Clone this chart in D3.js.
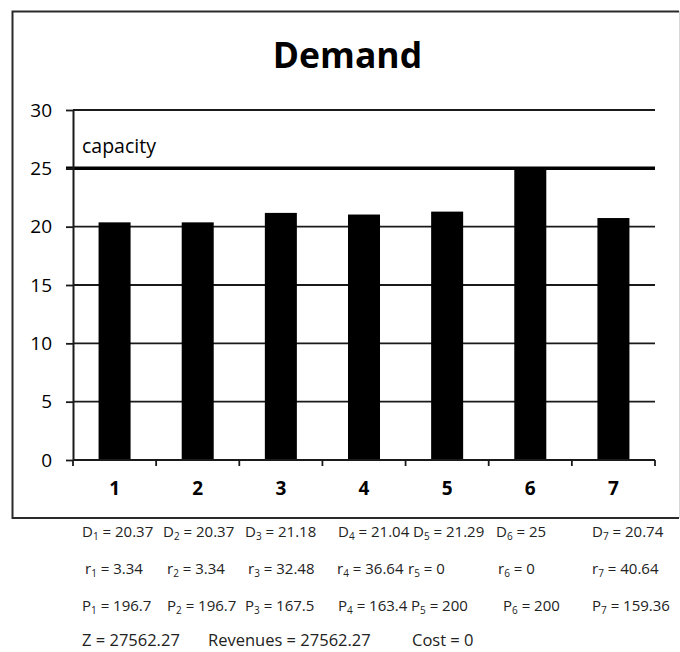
<!DOCTYPE html>
<html>
<head>
<meta charset="utf-8">
<script src="https://cdn.jsdelivr.net/npm/d3@7"></script>
<style>
  html, body { margin: 0; padding: 0; background: #fff; }
  svg { display: block; }
</style>
</head>
<body>
<svg id="chart" width="680" height="652"></svg>
<script>
// ---- data ----
const categories = ["1", "2", "3", "4", "5", "6", "7"];
const demand = [20.37, 20.37, 21.18, 21.04, 21.29, 25, 20.74];
const rValues = [3.34, 3.34, 32.48, 36.64, 0, 0, 40.64];
const pValues = [196.7, 196.7, 167.5, 163.4, 200, 200, 159.36];
const yTicks = [0, 5, 10, 15, 20, 25, 30];
const capacity = 25;
const capacityLabel = "capacity";
const title = "Demand";
const summaryLabels = ["Z", "Revenues", "Cost"];
const summaryValues = [27562.27, 27562.27, 0];

// ---- layout (positions only) ----
const rowX = {
  D: [82, 163, 245, 338, 413, 496, 592],
  r: [85, 167, 248, 337, 408, 498, 592],
  P: [82, 167, 245, 338, 411, 503, 592]
};
const rowY = { D: 537, r: 574, P: 611 };
const summaryX = [82, 208, 412];
const summaryY = 646;

const svg = d3.select("#chart");
const FONT = "'Open Sans', 'Noto Sans', sans-serif";
const NOTE_SIZE = 15;

// frame
svg.append("rect").attr("x", 0).attr("y", 0).attr("width", 680).attr("height", 652).attr("fill", "#fff");
svg.append("path")
  .attr("d", "M679,11.5 H12.5 V518 H679")
  .attr("fill", "none").attr("stroke", "#2a2a2a").attr("stroke-width", 2);
svg.append("line").attr("x1", 679.5).attr("x2", 679.5).attr("y1", 11).attr("y2", 518)
  .attr("stroke", "#d8d8d8").attr("stroke-width", 1);

// title
svg.append("text")
  .attr("x", 347.5).attr("y", 68)
  .attr("text-anchor", "middle")
  .attr("font-family", FONT).attr("font-weight", 700).attr("font-size", 35.5)
  .attr("fill", "#000")
  .text(title);

// scales
const x = d3.scaleBand().domain(categories).range([73, 655]).paddingInner(0.615).paddingOuter(0.3075);
const y = d3.scaleLinear().domain([0, 30]).range([460, 110]);

// gridlines
svg.append("g").selectAll("line")
  .data(yTicks.filter(t => t !== 0 && t !== capacity))
  .join("line")
  .attr("x1", x.range()[0]).attr("x2", x.range()[1])
  .attr("y1", d => y(d)).attr("y2", d => y(d))
  .attr("stroke", "#1a1a1a").attr("stroke-width", 1.8);

// bars
svg.append("g").selectAll("rect")
  .data(categories.map((c, i) => ({ c, v: demand[i] })))
  .join("rect")
  .attr("x", d => x(d.c))
  .attr("width", x.bandwidth())
  .attr("y", d => y(d.v))
  .attr("height", d => y(0) - y(d.v))
  .attr("fill", "#000");

// capacity line
svg.append("line")
  .attr("x1", x.range()[0] - 7).attr("x2", x.range()[1])
  .attr("y1", y(capacity)).attr("y2", y(capacity))
  .attr("stroke", "#000").attr("stroke-width", 3.5);
svg.append("text")
  .attr("x", 82).attr("y", 153)
  .attr("font-family", FONT).attr("font-size", 19.5).attr("fill", "#000")
  .text(capacityLabel);

// y axis
const yAxis = svg.append("g")
  .attr("transform", `translate(${x.range()[0]},0)`)
  .call(d3.axisLeft(y).tickValues(yTicks).tickSizeInner(7).tickSizeOuter(0).tickPadding(14));
yAxis.select(".domain").attr("stroke", "#1a1a1a").attr("stroke-width", 2);
yAxis.selectAll(".tick line").attr("stroke", "#1a1a1a").attr("stroke-width", 1.8);
yAxis.selectAll(".tick text")
  .attr("font-family", FONT).attr("font-size", 19).attr("fill", "#000");

// x axis
const xAxis = svg.append("g")
  .attr("transform", `translate(0,${y(0)})`)
  .call(d3.axisBottom(x).tickSize(0).tickPadding(22));
xAxis.select(".domain").attr("stroke", "#1a1a1a").attr("stroke-width", 2)
  .attr("d", `M${x.range()[0]},0H${x.range()[1]}`);
xAxis.selectAll(".tick text")
  .attr("font-family", FONT).attr("font-weight", 700).attr("font-size", 19).attr("fill", "#000");
const boundaries = d3.range(categories.length + 1).map(i => x.range()[0] + i * x.step());
xAxis.append("g").selectAll("line")
  .data(boundaries)
  .join("line")
  .attr("x1", d => d).attr("x2", d => d)
  .attr("y1", 0).attr("y2", 6)
  .attr("stroke", "#1a1a1a").attr("stroke-width", 1.8);

// bottom annotation rows
function fmt(v) { return String(v); }
function row(letter, values) {
  const g = svg.append("g")
    .attr("font-family", FONT).attr("font-size", NOTE_SIZE).attr("fill", "#222");
  values.forEach((v, i) => {
    const t = g.append("text").attr("x", rowX[letter][i]).attr("y", rowY[letter]);
    t.append("tspan").text(letter);
    t.append("tspan").attr("font-size", 10).attr("dy", 3).text(categories[i]);
    t.append("tspan").attr("dy", -3).text(" = " + fmt(v));
  });
}
row("D", demand);
row("r", rValues);
row("P", pValues);

const sg = svg.append("g").attr("font-family", FONT).attr("font-size", 16.5).attr("fill", "#222");
summaryLabels.forEach((l, i) => {
  sg.append("text").attr("x", summaryX[i]).attr("y", summaryY).text(l + " = " + fmt(summaryValues[i]));
});
</script>
</body>
</html>
